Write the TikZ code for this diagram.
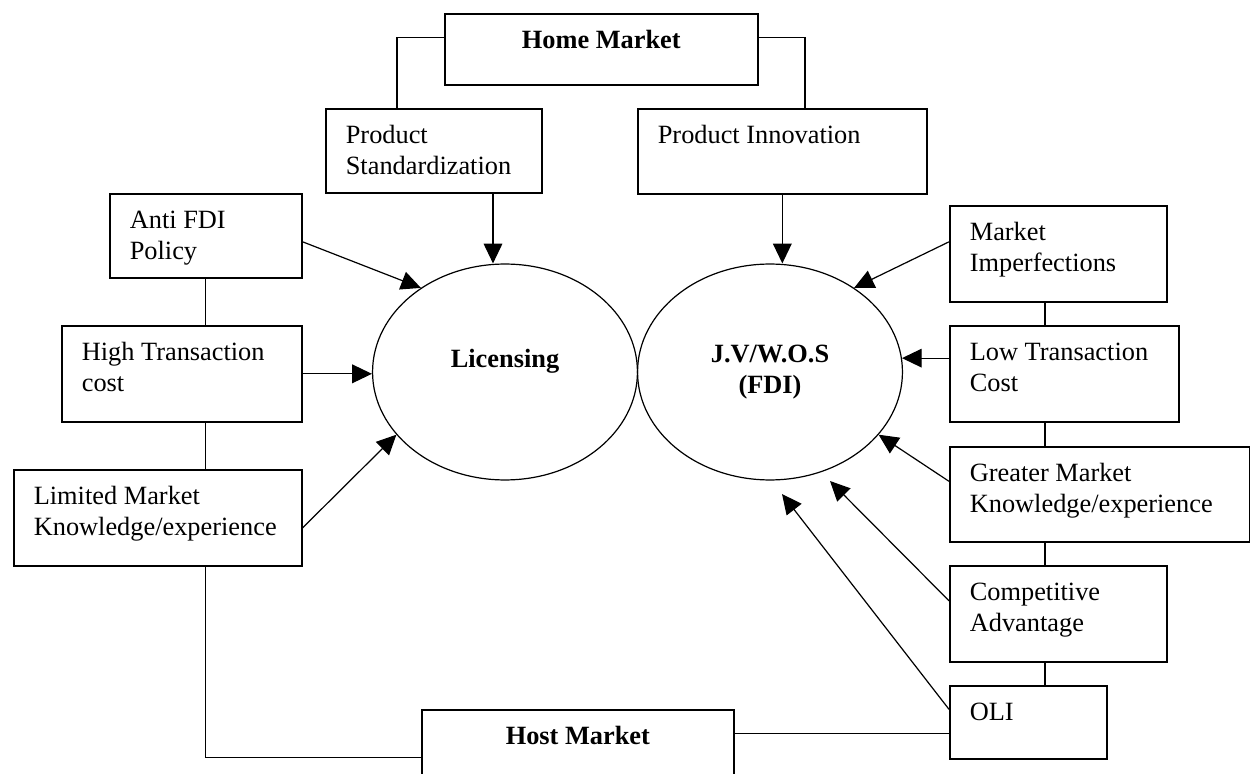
\documentclass[tikz,border=0pt]{standalone}
\usepackage{fontspec}
\setmainfont{Liberation Serif}
\usepackage{tikz}
\usetikzlibrary{positioning,calc,shapes.geometric,arrows.meta}

\newlength{\px}
\setlength{\px}{0.016cm}
\newcommand{\boxtext}[3]{\parbox[t][#2\px][t]{#1\px}{\raggedright\leftskip=20\px\vspace*{13\px}\strut#3}}
\newcommand{\headtext}[3]{\parbox[t][#2\px][t]{#1\px}{\centering\bfseries\vspace*{13\px}\strut#3}}

\tikzstyle{box} = [draw, line width=0.75pt, anchor=north west, inner sep=0pt]
\tikzstyle{oval} = [ellipse, draw, line width=0.55pt, minimum width=4.24cm, minimum height=3.456cm, inner sep=0pt, font=\fontsize{12}{14}\selectfont\bfseries]
\tikzstyle{link} = [line width=0.55pt]
\tikzstyle{arrow} = [line width=0.55pt, -{Triangle[length=9pt,width=8.5pt]}]

\begin{document}
\begin{tikzpicture}[x=0.016cm, y=-0.016cm, font=\fontsize{12}{14}\selectfont]
    \useasboundingbox (0,0) rectangle (1250,774);
    \clip (0,0) rectangle (1250,774);

    % Home market
    \node[box] (hm) at (444,13) {\headtext{313}{71}{Home Market}};
    \node[box] (ps) at (325,108) {\boxtext{216}{84}{Product\\Standardization}};
    \node[box] (pi) at (637,108) {\boxtext{289}{85}{Product Innovation}};
    \draw[link] ($(hm.west)+(0,-12)$) -| ($(ps.north west)+(72,0)$);
    \draw[link] ($(hm.east)+(0,-12)$) -| ($(pi.north west)+(168,0)$);

    % Entry modes
    \node[oval, text depth=12.8pt] (lic) at (505,372) {Licensing};
    \node[oval, align=center] (jv) at (770,372) {J.V/W.O.S\\(FDI)};
    \draw[arrow] ($(ps.south west)+(168,0)$) -- ($(lic.north)+(-12,0)$);
    \draw[arrow] (pi.south) -- (pi.south |- jv.north);

    % Left column
    \node[box] (afdi) at (109,193) {\boxtext{192}{84}{Anti FDI\\Policy}};
    \node[box] (htc) at (61,325) {\boxtext{240}{96}{High Transaction\\cost}};
    \node[box] (lmk) at (13,469) {\boxtext{288}{96}{Limited Market\\Knowledge/experience}};
    \draw[arrow] ($(afdi.east)+(0,6)$) -- (lic.135);
    \draw[arrow] (htc.east) -- (htc.east -| lic.west);
    \draw[arrow] ($(lmk.east)+(0,10)$) -- (lic.210);
    \draw[link] (afdi.south) -- (afdi.south |- htc.north);
    \draw[link] (afdi.south |- htc.south) -- (afdi.south |- lmk.north);

    % Right column
    \node[box] (mi) at (949,205) {\boxtext{217}{96}{Market\\Imperfections}};
    \node[box] (ltc) at (949,325) {\boxtext{229}{96}{Low Transaction\\Cost}};
    \node[box] (gm) at (949,446) {\boxtext{300}{95}{Greater Market\\Knowledge/experience}};
    \node[box] (ca) at (949,565) {\boxtext{217}{96}{Competitive\\Advantage}};
    \node[box] (oli) at (949,685) {\boxtext{157}{73}{OLI}};
    \coordinate (spine) at (1045,0);
    \foreach \a/\b in {mi/ltc, ltc/gm, gm/ca, ca/oli}
        \draw[link] (spine |- \a.south) -- (spine |- \b.north);
    \coordinate (catip) at (830,481);
    \coordinate (olitip) at (782,494);
    \draw[arrow] ($(mi.west)+(0,-12)$) -- (jv.45);
    \draw[arrow] (jv.6 -| ltc.west) -- (jv.6);
    \draw[arrow] ($(gm.west)+(0,-13)$) -- (jv.-30);
    \draw[arrow] ($(ca.west)+(0,-13)$) -- (catip);
    \draw[arrow] ($(oli.west)+(0,-13)$) -- (olitip);

    % Host market
    \node[box] (host) at (421,709) {\headtext{312}{96}{Host Market}};
    \coordinate (hostlink) at ($(host.east)+(0,-24)$);
    \draw[link] (hostlink) -- (hostlink -| oli.west);
    \draw[link] (afdi.south |- lmk.south) |- (host.west);
\end{tikzpicture}
\end{document}
